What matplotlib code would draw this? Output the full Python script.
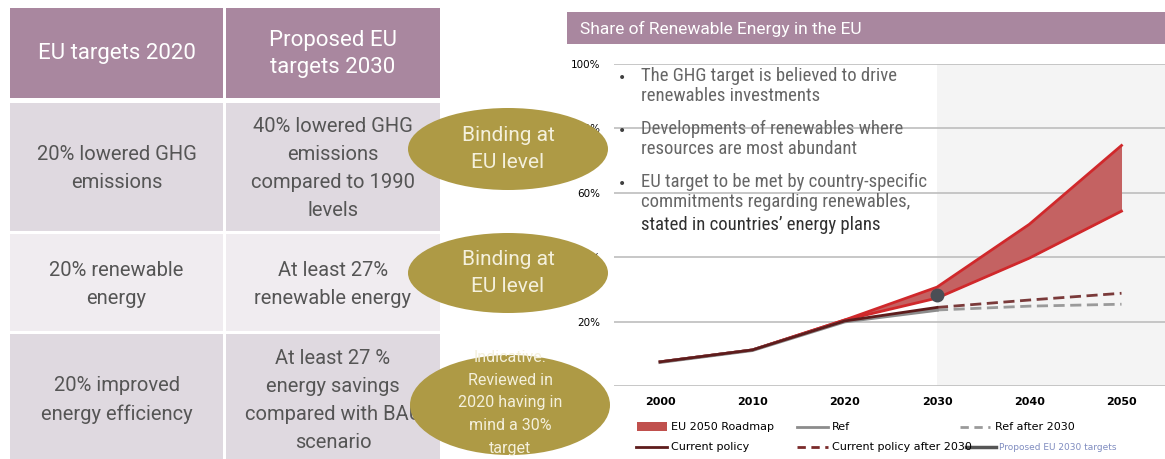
"""
EU energy targets: table of 2020 / 2030 goals next to the
share of renewable energy chart.
"""

import matplotlib.pyplot as plt
from matplotlib.patches import Rectangle, Ellipse

W, H = 1165, 459

# table contents
col_headers = ["EU targets 2020", "Proposed EU\ntargets 2030"]
targets_2020 = ["20% lowered GHG\nemissions", "20% renewable\nenergy",
                "20% improved\nenergy efficiency"]
targets_2030 = ["40% lowered GHG\nemissions\ncompared to 1990\nlevels",
                "At least 27%\nrenewable energy",
                "At least 27 %\nenergy savings\ncompared with BAU\nscenario"]
status = ["Binding at\nEU level", "Binding at\nEU level",
          "Indicative.\nReviewed in\n2020 having in\nmind a 30%\ntarget"]

# chart data (share of renewables, %)
years = ["2000", "2010", "2020", "2030", "2040", "2050"]
roadmap_low = [7.5, 11.2, 20.5, 27.3, 39.7, 54.3]
roadmap_high = [7.5, 11.2, 20.5, 30.7, 50.2, 74.7]
ref = [7.4, 11.1, 20.0, 23.6]
current_policy = [7.5, 11.2, 20.2, 24.4]
ref_after = [23.6, 24.8, 25.4]
current_after = [24.4, 26.7, 28.8]
proposed_2030 = 28.2
y_ticks = [0, 20, 40, 60, 80, 100]

bullets = ["The GHG target is believed to drive\nrenewables investments",
           "Developments of renewables where\nresources are most abundant",
           "EU target to be met by country-specific\ncommitments regarding renewables,"]
bullet_last = "stated in countries\u2019 energy plans"

PURPLE = "#A9879F"
CELL_DARK = "#DFD9E0"
CELL_LIGHT = "#F0ECF0"
OLIVE = "#AE9A45"
RED_EDGE = "#D0282B"
RED_FILL = "#C46262"
MAROON = "#5E1C1C"
GREY = "#8C8C8C"

narrow = ["Liberation Sans Narrow", "Roboto Condensed", "DejaVu Sans"]
sans = ["Roboto", "DejaVu Sans"]

fig = plt.figure(figsize=(W / 100, H / 100), dpi=100)
fig.patch.set_facecolor("white")

# background layer in pixel coords
bg = fig.add_axes([0, 0, 1, 1], zorder=0)
bg.set_xlim(0, W)
bg.set_ylim(H, 0)
bg.axis("off")

cols = [(10, 223), (226, 440)]
rows = [(8, 98), (103, 231), (234, 331), (334, 462)]
for c, (x0, x1) in enumerate(cols):
    y0, y1 = rows[0]
    bg.add_patch(Rectangle((x0, y0), x1 - x0, y1 - y0, color=PURPLE, lw=0))
    bg.text((x0 + x1) / 2, (y0 + y1) / 2 + 1, col_headers[c], ha="center", va="center",
            color="white", fontsize=16, family=sans, linespacing=1.4)
    texts = targets_2020 if c == 0 else targets_2030
    for r, (y0, y1) in enumerate(rows[1:]):
        fc = CELL_LIGHT if r == 1 else CELL_DARK
        bg.add_patch(Rectangle((x0, y0), x1 - x0, y1 - y0, color=fc, lw=0))
        bg.text((x0 + x1) / 2, (y0 + y1) / 2 + 2, texts[r], ha="center", va="center",
                color="#555555", fontsize=14.5, family=sans, linespacing=1.6)

# title bar
bg.add_patch(Rectangle((567, 12), W - 567, 32, color=PURPLE, lw=0))
bg.text(580, 29, "Share of Renewable Energy in the EU", ha="left", va="center",
        color="white", fontsize=12.5, family=sans)

# chart
ax = fig.add_axes([614 / W, (H - 386) / H, (W - 614) / W, (386 - 64) / H], zorder=1)
ax.patch.set_alpha(0)
x = list(range(len(years)))
ax.set_xlim(-0.5, (W - 660) / 92.3)
ax.set_ylim(0, 100)
ax.axvspan(3, 6, color="#F4F4F4", lw=0, zorder=0)
for v in y_ticks:
    ax.axhline(v, color="#BDBDBD", lw=1.2, zorder=1)
for s in ax.spines.values():
    s.set_visible(False)
ax.set_yticks(y_ticks)
ax.set_yticklabels([f"{v}%" for v in y_ticks], fontsize=7.5)
ax.set_xticks(x)
ax.set_xticklabels(years, fontsize=8, fontweight="bold")
ax.tick_params(length=0, pad=8)
ax.tick_params(axis="y", pad=10)

ax.fill_between(x, roadmap_low, roadmap_high, color=RED_FILL, lw=0, zorder=2)
ax.plot(x, roadmap_low, color=RED_EDGE, lw=2, zorder=3)
ax.plot(x, roadmap_high, color=RED_EDGE, lw=2, zorder=3)
ax.plot(x[3:], ref_after, color="#9A9A9A", lw=2, ls=(0, (4, 2)), zorder=3)
ax.plot(x[3:], current_after, color="#7A3A3A", lw=2, ls=(0, (4, 2)), zorder=3)
ax.plot(x[:4], ref, color=GREY, lw=2.5, zorder=4)
ax.plot(x[:4], current_policy, color=MAROON, lw=2, zorder=4)
ax.plot([3], [proposed_2030], "o", color="#4A4E55", ms=9, zorder=5)

# legend rows under the chart
lg = fig.add_axes([0, 0, 1, 1], zorder=2)
lg.set_xlim(0, W)
lg.set_ylim(H, 0)
lg.axis("off")
lg.add_patch(Rectangle((637, 422), 30, 9, color="#C0504D", lw=0))
lg.text(671, 427, "EU 2050 Roadmap", va="center", fontsize=8)
lg.plot([797, 828], [427, 427], color=GREY, lw=2)
lg.text(832, 427, "Ref", va="center", fontsize=8)
lg.plot([960, 990], [427, 427], color="#9A9A9A", lw=2, ls=(0, (3, 2)))
lg.text(995, 427, "Ref after 2030", va="center", fontsize=8)
lg.plot([636, 667], [447, 447], color=MAROON, lw=2)
lg.text(671, 447, "Current policy", va="center", fontsize=8)
lg.plot([797, 828], [447, 447], color="#7A2A2A", lw=2, ls=(0, (3, 2)))
lg.text(832, 447, "Current policy after 2030", va="center", fontsize=8)
lg.plot([966, 996], [447, 447], color="#555555", lw=2.5)
lg.text(999, 447, "Proposed EU 2030 targets", va="center", fontsize=6.5,
        color="#6070B0", alpha=0.8)

# bullet text over the chart
by = [77, 130, 183]
for b, text in zip(by, bullets):
    lg.text(622, b + 1, "\u2022", va="center", ha="center", fontsize=10, color="#404040")
    lg.text(641, b - 10, text, va="top", ha="left", fontsize=13.5, color="#666666",
            family=narrow, linespacing=1.12)
lg.text(641, 216, bullet_last, va="top", ha="left", fontsize=13.5, color="#303030",
        family=narrow)

# status ellipses
centers = [(508, 149), (508, 273), (510, 405)]
sizes = [(200, 82), (200, 80), (200, 100)]
for (cx, cy), (w, h), text in zip(centers, sizes, status):
    lg.add_patch(Ellipse((cx, cy), w, h, color=OLIVE, lw=0))
    small = text.count("\n") > 2
    lg.text(cx, cy - 2 if small else cy, text, ha="center", va="center",
            color="#F4F0DC", fontsize=11.5 if small else 15, family=sans,
            linespacing=1.65 if small else 1.55)

fig.savefig("out.png", dpi=100, facecolor="white")
